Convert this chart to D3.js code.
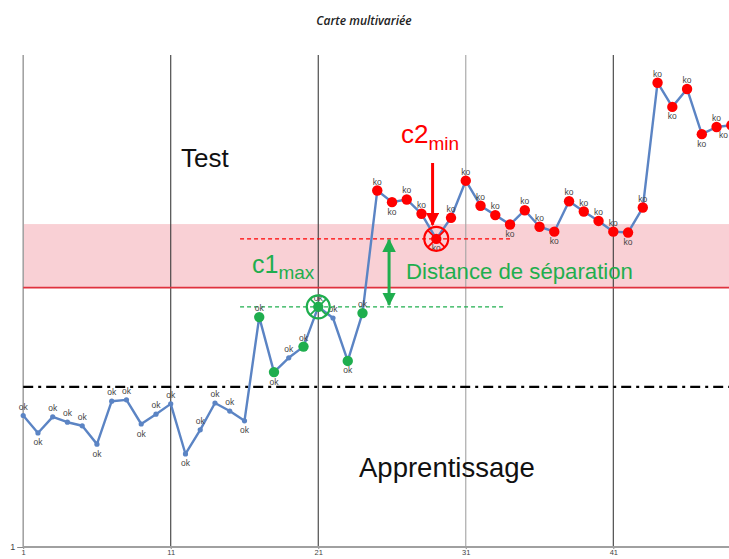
<!DOCTYPE html>
<html>
<head>
<meta charset="utf-8">
<script src="https://cdn.jsdelivr.net/npm/d3@7"></script>
<style>
  body { margin: 0; background: #fff; }
  svg { display: block; }
</style>
</head>
<body>
<svg id="chart" width="729" height="559"></svg>
<script>
// Observation numbers and the multivariate statistic for each one
const observations = d3.range(1, 50);
const values = [
  3.94, 3.55, 3.91, 3.79, 3.71, 3.30, 4.26, 4.29, 3.75, 3.97,
  4.20, 3.08, 3.62, 4.22, 4.04, 3.82, 6.14, 4.91, 5.23, 5.48,
  6.37, 6.12, 5.16, 6.23, 8.97, 8.71, 8.77, 8.45, 7.89, 8.36,
  9.19, 8.63, 8.42, 8.21, 8.53, 8.16, 8.05, 8.73, 8.50, 8.29,
  8.05, 8.03, 8.59, 11.38, 10.84, 11.24, 10.23, 10.39, 10.43
];
// Point status shown as data labels
const status = observations.map(i => (i <= 24 ? "ok" : "ko"));
// Marker group: "n" plain, "g" green (learning points near the limit), "r" red (test points)
const groups = [
  "n","n","n","n","n","n","n","n","n","n",
  "n","n","n","n","n","n","g","g","n","g",
  "g","n","g","g","r","r","r","r","r","r",
  "r","r","r","r","r","r","r","r","r","r",
  "r","r","r","r","r","r","r","r","r"
];
const xTicks = [1, 11, 21, 31, 41];
const yTicks = [1];

// Reference levels
const learningLimit = 4.58;   // dash-dot boundary between learning and test
const controlLimit = 6.80;    // red limit line
const bandTop = 8.22;         // upper edge of the pink zone
const c1Obs = 21;             // c1 max (learning set)
const c2Obs = 29;             // c2 min (test set)

const svg = d3.select("#chart");
const W = 729, H = 559;

const x = d3.scaleLinear().domain([1, 41]).range([23.2, 613.3]);
const y = d3.scaleLinear().domain([1, 12]).range([547, 55]);

const blue = "#5b84c4";
const green = "#1fae4e";
const red = "#ff0000";
const xLeft = x(1);

// Title
svg.append("text")
  .attr("x", 364).attr("y", 25)
  .attr("text-anchor", "middle")
  .style("font-family", "'Open Sans', sans-serif")
  .style("font-style", "italic")
  .style("font-weight", 600)
  .style("font-size", "12px")
  .style("fill", "#222")
  .text("Carte multivariée");

// Pink zone and limit line
svg.append("rect")
  .attr("x", xLeft).attr("y", y(bandTop))
  .attr("width", W - xLeft).attr("height", y(controlLimit) - y(bandTop))
  .attr("fill", "#f9d0d5");

// Vertical grid lines
svg.append("g").selectAll("line")
  .data(xTicks).join("line")
  .attr("x1", d => x(d)).attr("x2", d => x(d))
  .attr("y1", y(12)).attr("y2", y(1))
  .attr("stroke", d => (d === 1 || d === 31) ? "#a3a3a3" : "#3c3c3c")
  .attr("stroke-width", d => d === 1 ? 1.6 : 1.1);

svg.append("line")
  .attr("x1", xLeft).attr("x2", W)
  .attr("y1", y(controlLimit)).attr("y2", y(controlLimit))
  .attr("stroke", "#e0323e").attr("stroke-width", 1.6);

// Learning / test boundary
svg.append("line")
  .attr("x1", xLeft).attr("x2", W)
  .attr("y1", y(learningLimit)).attr("y2", y(learningLimit))
  .attr("stroke", "#000").attr("stroke-width", 2.4)
  .attr("stroke-dasharray", "10,5,3,5");

// Bottom axis
const xAxis = d3.axisBottom(x).tickValues(xTicks).tickSize(2).tickPadding(1).tickFormat(d3.format("d"));
const gx = svg.append("g").attr("transform", `translate(0,${y(1)})`).call(xAxis);
gx.select(".domain").remove();
gx.selectAll(".tick line").attr("stroke", "#888");
gx.selectAll(".tick text").style("font-family", "Arial, 'Liberation Sans', sans-serif").style("font-size", "7.5px").style("fill", "#444");
svg.append("line")
  .attr("x1", xLeft).attr("x2", W)
  .attr("y1", y(1)).attr("y2", y(1))
  .attr("stroke", "#a0a0a0").attr("stroke-width", 1.8);

// Left axis label
const yAxis = d3.axisLeft(y).tickValues(yTicks).tickSize(6).tickPadding(2).tickFormat(d3.format("d"));
const gy = svg.append("g").attr("transform", `translate(${xLeft},0)`).call(yAxis);
gy.select(".domain").remove();
gy.selectAll(".tick line").attr("stroke", "#888");
gy.selectAll(".tick text").style("font-family", "Arial, 'Liberation Sans', sans-serif").style("font-size", "9px").style("fill", "#444");

// c1max / c2min reference dashes
const dashFrom = 15.7, dashTo = 34.0;
svg.append("line")
  .attr("x1", x(dashFrom)).attr("x2", x(dashTo - 0.3))
  .attr("y1", y(values[c1Obs - 1])).attr("y2", y(values[c1Obs - 1]))
  .attr("stroke", green).attr("stroke-width", 1.2).attr("stroke-dasharray", "4,3");
svg.append("line")
  .attr("x1", x(dashFrom)).attr("x2", x(dashTo))
  .attr("y1", y(values[c2Obs - 1])).attr("y2", y(values[c2Obs - 1]))
  .attr("stroke", red).attr("stroke-width", 1.1).attr("stroke-dasharray", "4,3");

// Series line
const line = d3.line().x((d, i) => x(observations[i])).y(d => y(d));
svg.append("path")
  .datum(values)
  .attr("d", line)
  .attr("fill", "none")
  .attr("stroke", blue)
  .attr("stroke-width", 2.4)
  .attr("stroke-linejoin", "round");

// Markers
const pts = observations.map((o, i) => ({ o, v: values[i], g: groups[i], s: status[i], i }));
svg.append("g").selectAll("circle")
  .data(pts).join("circle")
  .attr("cx", d => x(d.o)).attr("cy", d => y(d.v))
  .attr("r", d => d.g === "n" ? 2.6 : 5.2)
  .attr("fill", d => d.g === "g" ? green : d.g === "r" ? red : blue);

// Data labels: below local minima, above otherwise; a label at the right edge
// goes below and to the left of its point so it stays inside the frame
const isMin = i => i > 0 && i < values.length - 1 && values[i] < values[i - 1] && values[i] < values[i + 1];
const atEdge = d => x(d.o) > W - 8;
svg.append("g").selectAll("text")
  .data(pts).join("text")
  .attr("x", d => Math.min(x(d.o), W - 1))
  .attr("y", d => y(d.v) + (isMin(d.i) || atEdge(d) ? 12.5 : -6))
  .attr("text-anchor", d => atEdge(d) ? "end" : "middle")
  .style("font-family", "Arial, 'Liberation Sans', sans-serif")
  .style("font-size", "8.5px")
  .style("fill", "#444")
  .text(d => d.s);

// Circled extreme points
function circled(obs, color, r) {
  const cx = x(obs), cy = y(values[obs - 1]);
  const g = svg.append("g");
  g.append("circle").attr("cx", cx).attr("cy", cy).attr("r", r)
    .attr("fill", "none").attr("stroke", color).attr("stroke-width", 2.2);
  const k = r * 0.7;
  g.append("line").attr("x1", cx - k).attr("y1", cy - k).attr("x2", cx + k).attr("y2", cy + k)
    .attr("stroke", color).attr("stroke-width", 1.8);
  g.append("line").attr("x1", cx - k).attr("y1", cy + k).attr("x2", cx + k).attr("y2", cy - k)
    .attr("stroke", color).attr("stroke-width", 1.8);
}
circled(c1Obs, green, 11.5);
circled(c2Obs, red, 12);

// Arrow heads
const defs = svg.append("defs");
function head(id, color) {
  defs.append("marker")
    .attr("id", id).attr("viewBox", "0 0 10 10")
    .attr("refX", 9).attr("refY", 5)
    .attr("markerWidth", 4.5).attr("markerHeight", 4.5)
    .attr("markerUnits", "strokeWidth")
    .attr("orient", "auto-start-reverse")
    .append("path").attr("d", "M0,0 L10,5 L0,10 Z").attr("fill", color);
}
head("hg", green);
head("hr", red);

// Separation distance arrow
const sepX = x(25.8);
svg.append("line")
  .attr("x1", sepX).attr("x2", sepX)
  .attr("y1", y(values[c2Obs - 1]) + 1).attr("y2", y(values[c1Obs - 1]) - 2)
  .attr("stroke", green).attr("stroke-width", 3)
  .attr("marker-start", "url(#hg)").attr("marker-end", "url(#hg)");

// Arrow pointing at c2 min
const arX = x(28.75);
svg.append("line")
  .attr("x1", arX).attr("x2", arX)
  .attr("y1", 163).attr("y2", y(values[c2Obs - 1]) - 14)
  .attr("stroke", red).attr("stroke-width", 3)
  .attr("marker-end", "url(#hr)");

// Annotations
const sans = "Arial, 'Liberation Sans', sans-serif";
svg.append("text").attr("x", 181).attr("y", 167)
  .style("font-family", sans).style("font-size", "26px").style("fill", "#111")
  .text("Test");
svg.append("text").attr("x", 359).attr("y", 477)
  .style("font-family", sans).style("font-size", "27.5px").style("fill", "#111")
  .text("Apprentissage");

const c1 = svg.append("text").attr("x", 252).attr("y", 273)
  .style("font-family", sans).style("fill", green);
c1.append("tspan").style("font-size", "25px").text("c1");
c1.append("tspan").attr("dy", 6).style("font-size", "19px").text("max");

const c2 = svg.append("text").attr("x", 401).attr("y", 143)
  .style("font-family", sans).style("fill", red);
c2.append("tspan").style("font-size", "26px").text("c2");
c2.append("tspan").attr("dy", 7).style("font-size", "19px").text("min");

svg.append("text").attr("x", 406).attr("y", 279)
  .style("font-family", sans).style("font-size", "22.2px").style("fill", green)
  .text("Distance de séparation");
</script>
</body>
</html>
